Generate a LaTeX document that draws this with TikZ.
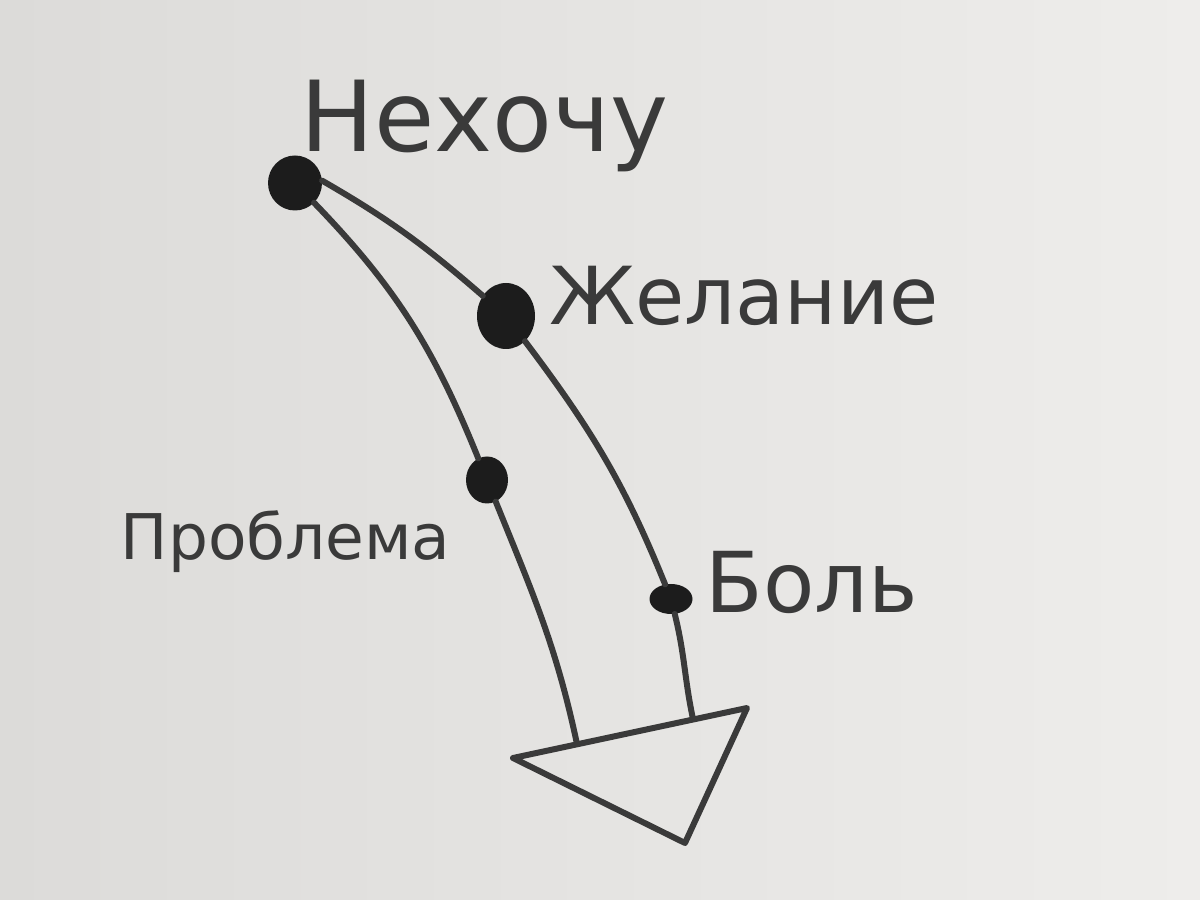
\documentclass[tikz,border=0pt]{standalone}
\usepackage{fontspec}
\setmainfont{DejaVu Sans}
\usetikzlibrary{shapes.geometric}
\usetikzlibrary{positioning}

\definecolor{ink}{HTML}{3A3A3A}
\definecolor{blot}{HTML}{1C1C1C}
\definecolor{paperl}{HTML}{DCDBD9}
\definecolor{paperr}{HTML}{EEEDEB}

\begin{document}
\begin{tikzpicture}[x=1pt, y=1pt]
	\tikzset{
		dotnode/.style={ellipse, fill=blot, inner sep=0pt},
		lbl/.style={inner sep=0pt, text=ink},
		curve/.style={draw=ink, line width=6pt, line cap=round, line join=round},
	}
	\shade[left color=paperl, right color=paperr] (0,0) rectangle (1200,900);
	\useasboundingbox (0,0) rectangle (1200,900);

	\node[dotnode, minimum width=54pt, minimum height=55pt] (topdot) at (295,717) {};
	\node[dotnode, minimum width=58pt, minimum height=66pt] (desire) at (506,584) {};
	\node[dotnode, minimum width=42pt, minimum height=47pt] (prob) at (487,420) {};
	\node[dotnode, minimum width=43pt, minimum height=30pt] (pain) at (671,301) {};

	\node[lbl, font=\fontsize{98}{98}\selectfont, above right=-9pt and -14pt of topdot] (nehochu) {Нехочу};
	\node[lbl, font=\fontsize{80}{80}\selectfont, right=14pt of desire, yshift=20pt] (zhelanie) {Желание};
	\node[lbl, font=\fontsize{63}{63}\selectfont, left=15pt of prob, yshift=-62pt] (problema) {Проблема};
	\node[lbl, font=\fontsize{84}{84}\selectfont, right=13pt of pain, yshift=17pt] (bol) {Боль};

	\coordinate (tipl) at (513,142);
	\coordinate (tipr) at (747,192);
	\coordinate (tipb) at (685,57);
	\coordinate (lend) at (577,156);
	\coordinate (rend) at (693,181);

	\draw[curve] (topdot) to[out=-46, in=112] (prob) to[out=-68, in=102] (lend);
	\draw[curve] (topdot.5) to[out=-30, in=139] (desire) to[out=-53, in=112] (pain) to[out=-76, in=102] (rend);
	\draw[curve] (tipl) -- (tipr) -- (tipb) -- cycle;
\end{tikzpicture}
\end{document}
